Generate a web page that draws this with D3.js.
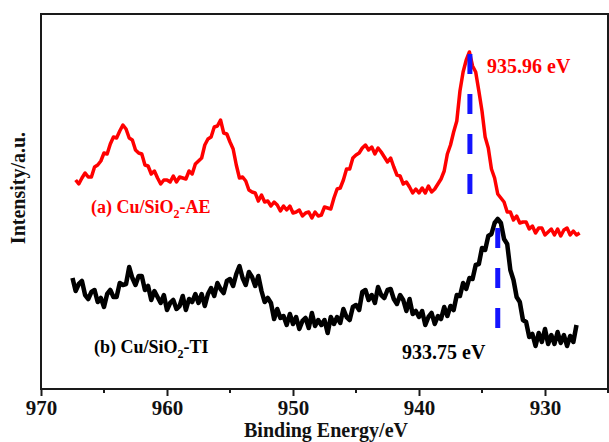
<!DOCTYPE html>
<html>
<head>
<meta charset="utf-8">
<script src="https://cdn.jsdelivr.net/npm/d3@7"></script>
<style>
  body { margin: 0; background: #fff; }
  text { font-family: "Liberation Serif", "Times New Roman", serif; font-weight: bold; }
</style>
</head>
<body>
<div id="chart"></div>
<script>
// binding energy grid (eV), both spectra recorded at 0.25 eV steps
var stepEV = 0.25;
var startA = 967.25;
var startB = 967.5;

// (a) Cu/SiO2-AE, intensity in a.u.
var seriesA = [
  209,205,211,216,212,212,222,224,228,236,235,245,252,251,258,264,260,251,249,239,
  236,235,224,223,215,218,211,205,209,209,207,213,207,212,211,210,218,215,225,228,
  231,244,250,252,262,263,269,256,255,247,240,224,211,212,208,199,197,196,188,194,
  187,188,183,187,184,178,183,179,183,176,177,179,173,176,177,171,177,173,174,182,
  181,180,191,200,201,209,220,220,231,234,236,241,244,239,242,235,241,237,232,227,
  231,222,214,213,205,207,202,196,200,196,201,196,203,197,200,205,210,218,235,244,
  257,268,298,317,329,337,323,317,298,278,252,241,220,211,195,191,187,177,177,169,
  173,166,167,167,160,163,156,161,161,154,157,160,154,160,153,159,161,154,158,154,
  156
];

// (b) Cu/SiO2-TI, intensity in a.u.
var seriesB = [
  111,98,105,108,94,90,97,99,87,91,82,95,99,92,92,106,104,105,122,111,
  104,113,113,99,103,89,98,92,86,94,79,86,89,80,83,93,79,90,87,95,
  86,95,83,95,101,93,106,100,96,108,110,103,115,123,111,104,117,112,103,113,
  98,87,91,86,70,80,71,73,64,75,65,72,60,68,71,61,76,63,69,64,
  69,56,72,65,72,66,80,72,69,82,84,79,97,99,89,94,86,102,94,91,
  99,100,90,85,94,89,78,90,75,78,72,78,64,72,76,65,73,70,82,73,
  83,79,94,93,106,100,111,110,124,125,141,139,153,155,166,170,166,150,145,119,
  109,92,87,69,67,52,55,43,56,47,60,45,54,45,57,46,54,43,53,47,
  64
];

var xTicks = [970, 960, 950, 940, 930];
var xMinorTicks = [965, 955, 945, 935, 925];

// peak markers: position and the intensity span of the dashed line
var peakEnergy = [935.96, 933.75];
var peakTop = [335, 161];
var peakBottom = [192, 56];
var peakLabels = ["935.96 eV", "933.75 eV"];

var width = 609, height = 442;
var plotLeft = 41, plotRight = 608, plotTop = 14, plotBottom = 389;

var x = d3.scaleLinear().domain([970, 925]).range([plotLeft, plotRight]);
var y = d3.scaleLinear().domain([0, 375]).range([plotBottom, plotTop]);

var svg = d3.select("#chart").append("svg")
    .attr("width", width)
    .attr("height", height);

function toPoints(values, start) {
  return values.map(function(v, i) { return [start - i * stepEV, v]; });
}

var line = d3.line()
    .x(function(d) { return x(d[0]); })
    .y(function(d) { return y(d[1]); });

// frame
svg.append("rect")
    .attr("x", plotLeft)
    .attr("y", plotTop)
    .attr("width", plotRight - plotLeft)
    .attr("height", plotBottom - plotTop)
    .attr("fill", "none")
    .attr("stroke", "#1a1a1a")
    .attr("stroke-width", 2);

// bottom axis
var xAxis = svg.append("g")
    .attr("transform", "translate(0," + plotBottom + ")")
    .call(d3.axisBottom(x).tickValues(xTicks).tickSize(7).tickPadding(4).tickFormat(d3.format("d")));
xAxis.select(".domain").remove();
xAxis.selectAll("line").attr("stroke", "#1a1a1a").attr("stroke-width", 2);
xAxis.selectAll("text")
    .attr("fill", "#111")
    .style("font-size", "21px")
    .style("font-family", "'Liberation Serif', serif")
    .style("font-weight", "bold");

svg.append("g")
    .selectAll("line")
    .data(xMinorTicks)
  .enter().append("line")
    .attr("x1", function(d) { return x(d); })
    .attr("x2", function(d) { return x(d); })
    .attr("y1", plotBottom)
    .attr("y2", plotBottom + 4)
    .attr("stroke", "#1a1a1a")
    .attr("stroke-width", 2);

// spectra
svg.append("path")
    .datum(toPoints(seriesA, startA))
    .attr("d", line)
    .attr("fill", "none")
    .attr("stroke", "#ff0000")
    .attr("stroke-width", 3.5)
    .attr("stroke-linejoin", "round");

svg.append("path")
    .datum(toPoints(seriesB, startB))
    .attr("d", line)
    .attr("fill", "none")
    .attr("stroke", "#000")
    .attr("stroke-width", 4.5)
    .attr("stroke-linejoin", "round");

// dashed peak markers
svg.append("g")
    .selectAll("line")
    .data(peakEnergy)
  .enter().append("line")
    .attr("x1", function(d) { return x(d); })
    .attr("x2", function(d) { return x(d); })
    .attr("y1", function(d, i) { return y(peakTop[i]); })
    .attr("y2", function(d, i) { return y(peakBottom[i]); })
    .attr("stroke", "#1414ff")
    .attr("stroke-width", 5)
    .attr("stroke-dasharray", "20,20");

svg.append("text")
    .attr("x", 487).attr("y", 73)
    .attr("fill", "#ff0000")
    .style("font-size", "20px")
    .text(peakLabels[0]);

svg.append("text")
    .attr("x", 402).attr("y", 359)
    .attr("fill", "#000")
    .style("font-size", "20px")
    .text(peakLabels[1]);

// sample labels
function sampleLabel(xp, yp, color, tail) {
  var t = svg.append("text")
      .attr("x", xp).attr("y", yp)
      .attr("fill", color)
      .style("font-size", "18px");
  t.append("tspan").text(tail[0]);
  t.append("tspan").attr("dy", 5).style("font-size", "12px").text("2");
  t.append("tspan").attr("dy", -5).text(tail[1]);
}
sampleLabel(91, 213, "#ff0000", ["(a) Cu/SiO", "-AE"]);
sampleLabel(94, 353, "#000", ["(b) Cu/SiO", "-TI"]);

// axis titles
svg.append("text")
    .attr("x", 326).attr("y", 437)
    .attr("text-anchor", "middle")
    .attr("fill", "#111")
    .style("font-size", "20px")
    .text("Binding Energy/eV");

svg.append("text")
    .attr("transform", "translate(25,188) rotate(-90)")
    .attr("text-anchor", "middle")
    .attr("fill", "#111")
    .style("font-size", "20px")
    .text("Intensity/a.u.");
</script>
</body>
</html>
